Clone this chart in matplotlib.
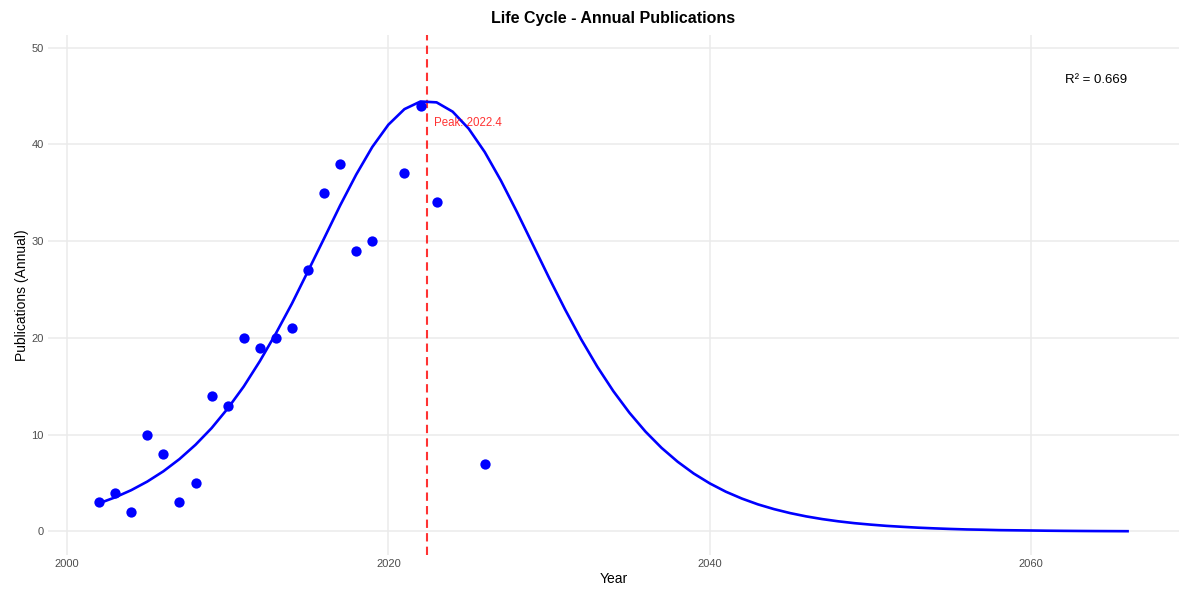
import matplotlib.pyplot as plt
import numpy as np

plt.rcParams['font.family'] = ['Liberation Sans', 'DejaVu Sans']

# observed annual publications
years = [2002, 2003, 2004, 2005, 2006, 2007, 2008, 2009, 2010, 2011, 2012,
         2013, 2014, 2015, 2016, 2017, 2018, 2019, 2021, 2022, 2023, 2026]
pubs = [3, 4, 2, 10, 8, 3, 5, 14, 13, 20, 19,
        20, 21, 27, 35, 38, 29, 30, 37, 44, 34, 7]

# fitted life cycle curve at each year 2002..2066
fit_years = list(range(2002, 2067))
fit_vals = [2.91, 3.53, 4.27, 5.16, 6.22, 7.48, 8.96, 10.68, 12.70, 14.98,
            17.59, 20.46, 23.55, 26.90, 30.28, 33.69, 36.88, 39.73, 42.03, 43.64,
            44.43, 44.34, 43.38, 41.62, 39.20, 36.27, 33.02, 29.62, 26.21, 22.93,
            19.85, 17.03, 14.50, 12.27, 10.32, 8.64, 7.21, 5.99, 4.97, 4.11,
            3.40, 2.80, 2.31, 1.90, 1.56, 1.28, 1.05, 0.86, 0.71, 0.58,
            0.48, 0.39, 0.32, 0.26, 0.21, 0.18, 0.14, 0.12, 0.10, 0.08,
            0.065, 0.053, 0.043, 0.036, 0.029]

peak_year = 2022.4
r2 = 0.669
peak_val = max(fit_vals)

fig = plt.figure(figsize=(11.84, 5.9), dpi=100)
ax = fig.add_axes([48/1184, 35/590, (1179-48)/1184, (555-35)/590])

ax.plot(fit_years, fit_vals, color='blue', lw=1.9, zorder=3)
ax.scatter(years, pubs, s=55, color='blue', zorder=4, linewidths=0)
ax.axvline(peak_year, color='red', alpha=0.8, lw=1.5, dashes=(4, 2.5), zorder=2)

ax.text(peak_year + 0.45, peak_val * 0.95, 'Peak: %.1f' % peak_year, color='red',
        alpha=0.8, fontsize=8.3, ha='left', va='center')
ax.text(fit_years[-1], peak_val * 1.05, 'R² = %.3f' % r2, color='black',
        fontsize=9.5, ha='right', va='center')

ax.set_xlim(1998.82, 2069.2)
ax.set_ylim(-2.43, 51.3)
ax.set_xticks([2000, 2020, 2040, 2060])
ax.set_yticks([0, 10, 20, 30, 40, 50])
ax.grid(True, color='#EBEBEB', lw=1.1)
ax.set_axisbelow(True)
for s in ax.spines.values():
    s.set_visible(False)
ax.tick_params(length=0, labelsize=8, labelcolor='#4D4D4D', pad=3)

ax.set_title('Life Cycle - Annual Publications', fontsize=11.5, fontweight='bold', pad=9)
ax.set_xlabel('Year', fontsize=10, labelpad=2)
ax.set_ylabel('Publications (Annual)', fontsize=10, labelpad=2)

fig.savefig('out.png', dpi=100)
